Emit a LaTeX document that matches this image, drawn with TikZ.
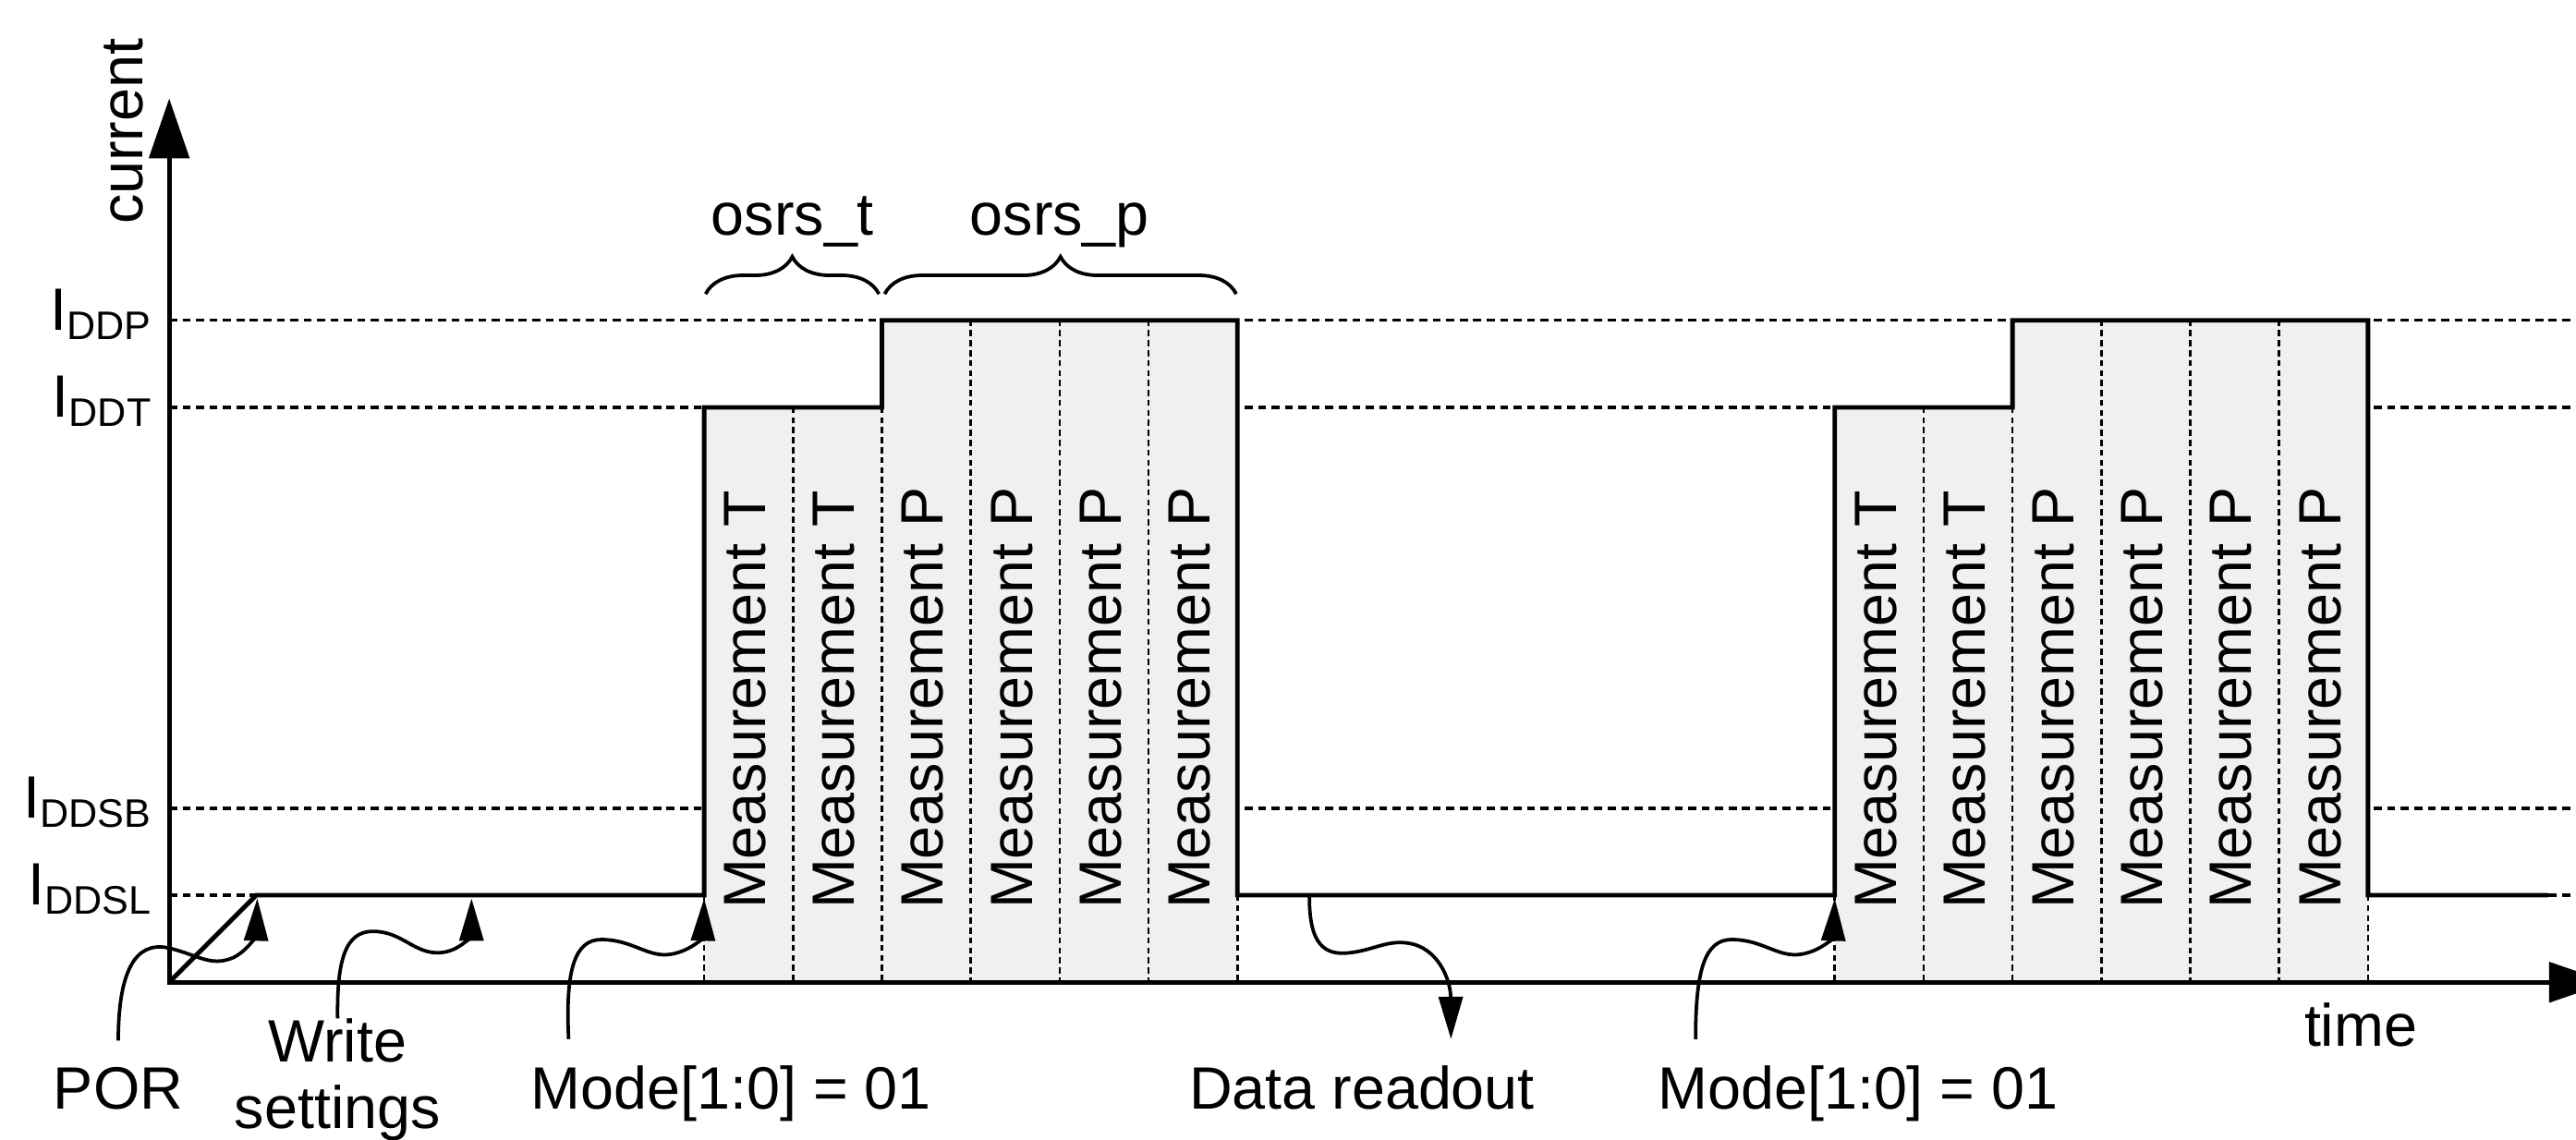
\documentclass[tikz,border=0pt]{standalone}
\usepackage{fontspec}
\setmainfont{Liberation Sans}
\usetikzlibrary{arrows.meta,calc,decorations.pathreplacing}
\definecolor{blockgray}{RGB}{240,240,240}

\begin{document}
\begin{tikzpicture}[
  x=0.0116cm, y=-0.0116cm,
  axis/.style={{Triangle[length=12pt,width=8pt]}-{Triangle[length=12pt,width=8pt]}, line width=0.9pt},
  level/.style={line width=0.65pt, dash pattern=on 1.6pt off 1.1pt},
  divider/.style={line width=0.5pt, dash pattern=on 1.2pt off 0.8pt},
  signal/.style={line width=0.9pt},
  meas/.style={rotate=90, anchor=west, inner sep=0pt, font=\fontsize{12}{14}\selectfont},
  lvl/.style={anchor=base east, inner sep=0pt, font=\fontsize{12}{14}\selectfont},
  txt/.style={anchor=base, inner sep=0pt, font=\fontsize{12}{14}\selectfont},
  note/.style={anchor=base, inner sep=0pt, outer sep=5.3pt, font=\fontsize{12}{13.5}\selectfont},
  flow/.style={-{Triangle[length=8.5pt,width=4.8pt]}, line width=0.7pt},
  grp/.style={decorate, decoration={brace, amplitude=7.5pt}, line width=0.7pt}
]
\useasboundingbox (0,0) rectangle (1568,694);

\draw[level] (103,195) -- (1570,195);
\draw[level] (103,248) -- (1570,248);
\draw[level] (103,492) -- (1570,492);
\draw[level] (103,545) -- (1570,545);

\fill[blockgray] (428.6,598) rectangle (536.8,248);
\fill[blockgray] (536.8,598) rectangle (753.2,195);
\fill[blockgray] (1116.8,598) rectangle (1225,248);
\fill[blockgray] (1225,598) rectangle (1441.4,195);

\draw[divider] (428.6,545) -- (428.6,598) (482.7,248) -- (482.7,598)
  (536.8,248) -- (536.8,598) (590.9,195) -- (590.9,598)
  (645,195) -- (645,598) (699.1,195) -- (699.1,598) (753.2,545) -- (753.2,598);
\draw[divider] (1116.8,545) -- (1116.8,598) (1170.9,248) -- (1170.9,598)
  (1225,248) -- (1225,598) (1279.1,195) -- (1279.1,598)
  (1333.2,195) -- (1333.2,598) (1387.3,195) -- (1387.3,598) (1441.4,545) -- (1441.4,598);

\draw[signal] (103,598) -- (156,545) -- (428.6,545) -- (428.6,248) -- (536.8,248)
  -- (536.8,195) -- (753.2,195) -- (753.2,545) -- (1116.8,545) -- (1116.8,248)
  -- (1225,248) -- (1225,195) -- (1441.4,195) -- (1441.4,545) -- (1551,545);

\draw[axis] (103,60) -- (103,598) -- (1588,598);

\node[txt, rotate=90] (ylabel) at (87,80) {current};
\node[txt] (xlabel) at (1437,637) {time};
\node[lvl] (ddp) at (94,201) {I\textsubscript{DDP}};
\node[lvl] (ddt) at (94,254) {I\textsubscript{DDT}};
\node[lvl] (ddsb) at (94,498) {I\textsubscript{DDSB}};
\node[lvl] (ddsl) at (94,551) {I\textsubscript{DDSL}};

\node[meas] (mt1) at (453.6,554) {Measurement T};
\node[meas] (mt2) at (507.7,554) {Measurement T};
\node[meas] (mp1) at (561.8,554) {Measurement P};
\node[meas] (mp2) at (615.9,554) {Measurement P};
\node[meas] (mp3) at (670,554) {Measurement P};
\node[meas] (mp4) at (724.1,554) {Measurement P};
\node[meas] (mt3) at (1141.8,554) {Measurement T};
\node[meas] (mt4) at (1195.9,554) {Measurement T};
\node[meas] (mp5) at (1250,554) {Measurement P};
\node[meas] (mp6) at (1304.1,554) {Measurement P};
\node[meas] (mp7) at (1358.2,554) {Measurement P};
\node[meas] (mp8) at (1412.3,554) {Measurement P};

\node[txt] (osrst) at (482.5,143) {osrs\_t};
\node[txt] (osrsp) at (645,143) {osrs\_p};
\draw[grp] (429.5,179) -- (535,179);
\draw[grp] (538.5,179) -- (752.5,179);

\node[note] (por) at (72,675) {POR};
\node[note, align=center, anchor=north, outer sep=0pt] (write) at (205.5,620) {Write\\settings};
\node[note] (mode1) at (445,675) {Mode[1:0] = 01};
\node[note] (readout) at (829,675) {Data readout};
\node[note] (mode2) at (1131,675) {Mode[1:0] = 01};

\coordinate (rampend) at (156.6,547);
\coordinate (wrset) at (287,547);
\coordinate (start1) at (428.6,547);
\coordinate (rdout) at (797,546);
\coordinate (start2) at (1116.8,547);

\draw[flow] (por.north) .. controls (72,592) and (82,573) .. (102,577)
  .. controls (120,581) and (128,589) .. (142,583)
  .. controls (152,578) and (156,568) .. (rampend);
\draw[flow] (write.north) .. controls (205,585) and (210,567) .. (227,567)
  .. controls (245,567) and (252,581) .. (268,580)
  .. controls (281,579) and (287,568) .. (wrset);
\draw[flow] ($(mode1.north west)+(39,0)$) .. controls (344,590) and (350,572) .. (366,572)
  .. controls (385,572) and (394,583) .. (408,581)
  .. controls (421,579) and (428,570) .. (start1);
\draw[flow] (rdout) .. controls (797,575) and (806,582) .. (822,580)
  .. controls (838,578) and (846,571) .. (861,575)
  .. controls (877,580) and (883,598) .. ($(readout.north east)+(-67,0)$);
\draw[flow] ($(mode2.north west)+(39,0)$) .. controls (1032,590) and (1038,572) .. (1054,572)
  .. controls (1073,572) and (1082,583) .. (1096,581)
  .. controls (1109,579) and (1116,570) .. (start2);
\end{tikzpicture}
\end{document}
